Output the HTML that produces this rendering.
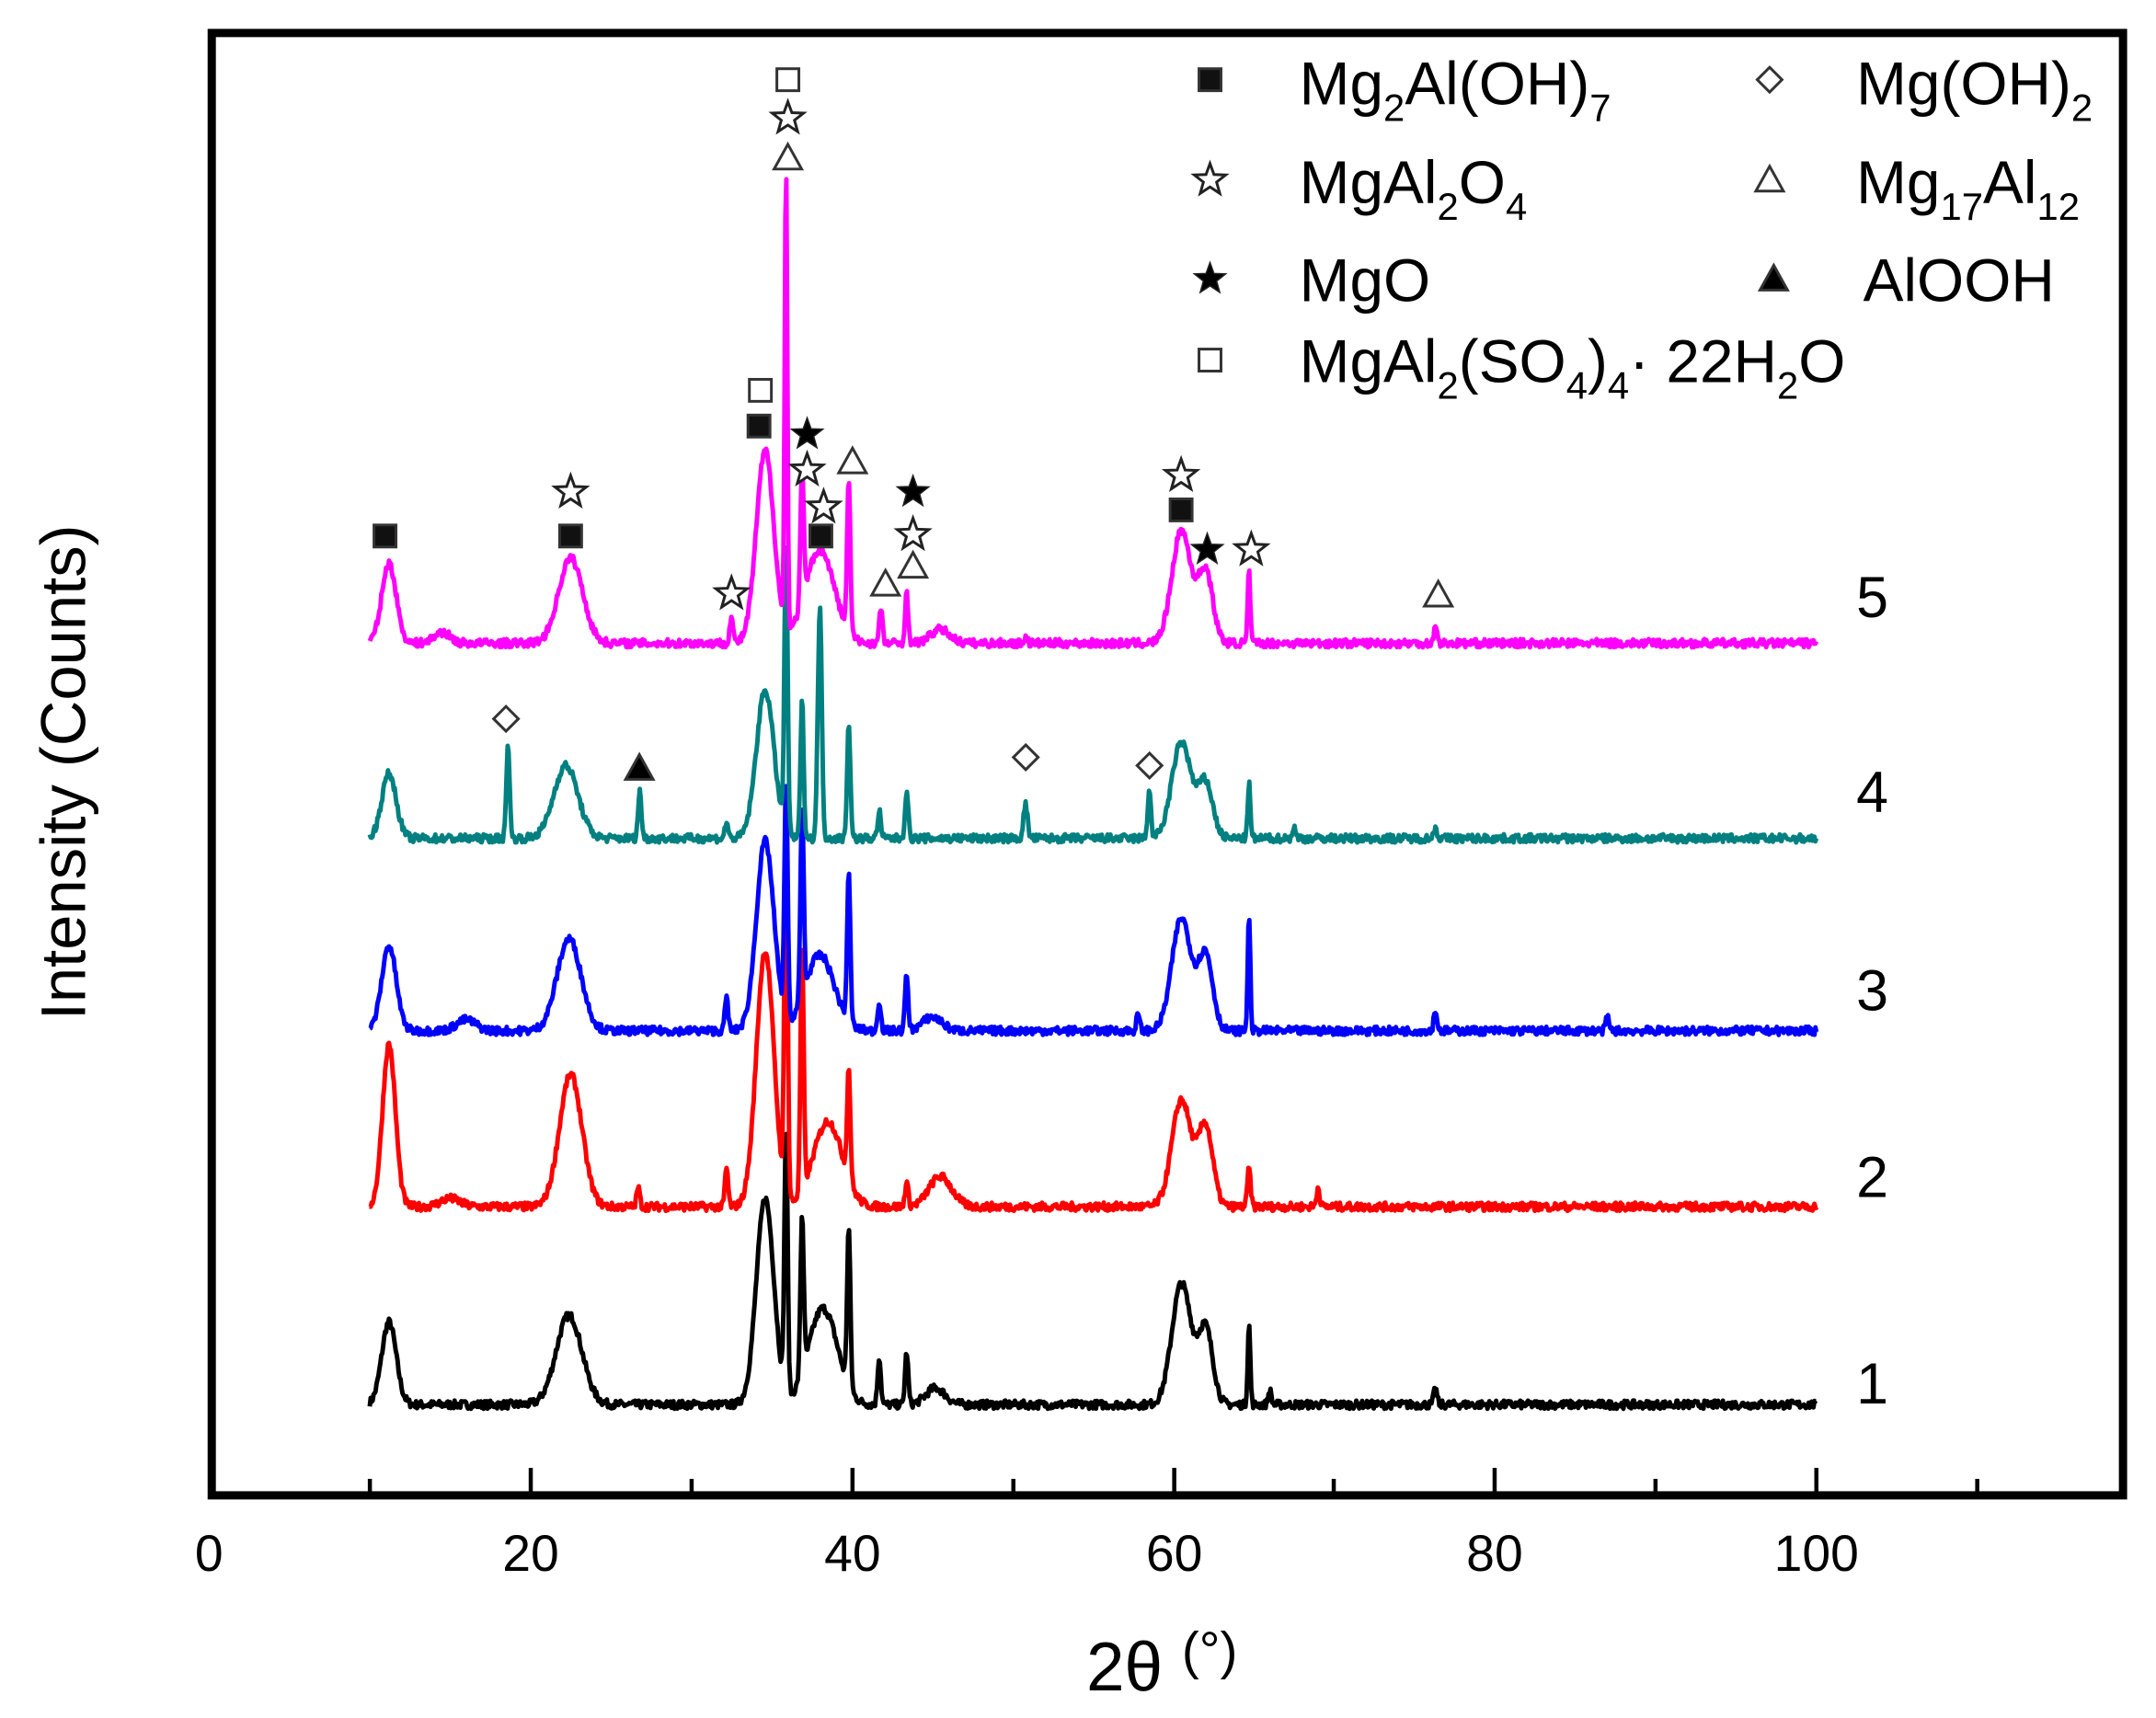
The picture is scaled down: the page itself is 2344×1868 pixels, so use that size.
<!DOCTYPE html>
<html><head><meta charset="utf-8">
<style>html,body{margin:0;padding:0;background:#fff;}svg{display:block}</style>
</head><body>
<svg id="s" width="2344" height="1868" viewBox="0 0 1568 1250" preserveAspectRatio="none" xmlns="http://www.w3.org/2000/svg" font-family="Liberation Sans, Arial, sans-serif">
<rect x="0" y="0" width="1568" height="1250" fill="#fff"/>
<g id="series"></g>
<rect x="154" y="24" width="1390" height="1064" fill="none" stroke="#000" stroke-width="6"/>
<g stroke="#000" stroke-width="3">
<line x1="269" y1="1088" x2="269" y2="1076"/>
<line x1="386" y1="1088" x2="386" y2="1068"/>
<line x1="503" y1="1088" x2="503" y2="1076"/>
<line x1="620" y1="1088" x2="620" y2="1068"/>
<line x1="737" y1="1088" x2="737" y2="1076"/>
<line x1="854" y1="1088" x2="854" y2="1068"/>
<line x1="970" y1="1088" x2="970" y2="1076"/>
<line x1="1087" y1="1088" x2="1087" y2="1068"/>
<line x1="1204" y1="1088" x2="1204" y2="1076"/>
<line x1="1321" y1="1088" x2="1321" y2="1068"/>
<line x1="1438" y1="1088" x2="1438" y2="1076"/>
</g>
<g font-size="37" text-anchor="middle" fill="#000">
<text x="152" y="1143">0</text><text x="386" y="1143">20</text><text x="620" y="1143">40</text>
<text x="854" y="1143">60</text><text x="1087" y="1143">80</text><text x="1321" y="1143">100</text>
</g>
<text x="845" y="1230" font-size="50" text-anchor="middle">2θ <tspan font-size="38" dy="-16">(°)</tspan></text>
<text transform="translate(62,562) rotate(-90)" font-size="46" text-anchor="middle">Intensity (Counts)</text>
<g font-size="42" fill="#000">
<text x="1350" y="449">5</text><text x="1350" y="591">4</text><text x="1350" y="735">3</text>
<text x="1350" y="871">2</text><text x="1350" y="1021">1</text>
</g>
<g font-size="44" fill="#000">
<text x="945" y="76">Mg<tspan font-size="28" dy="12">2</tspan><tspan dy="-12">Al(OH)</tspan><tspan font-size="28" dy="12">7</tspan></text>
<text x="1350" y="76">Mg(OH)<tspan font-size="28" dy="12">2</tspan></text>
<text x="945" y="148">MgAl<tspan font-size="28" dy="12">2</tspan><tspan dy="-12">O</tspan><tspan font-size="28" dy="12">4</tspan></text>
<text x="1350" y="148">Mg<tspan font-size="28" dy="12">17</tspan><tspan dy="-12">Al</tspan><tspan font-size="28" dy="12">12</tspan></text>
<text x="945" y="219">MgO</text>
<text x="1355" y="219">AlOOH</text>
<text x="945" y="278">MgAl<tspan font-size="28" dy="12">2</tspan><tspan dy="-12">(SO</tspan><tspan font-size="28" dy="12">4</tspan><tspan dy="-12">)</tspan><tspan font-size="28" dy="12">4</tspan><tspan dy="-12">·  22H</tspan><tspan font-size="28" dy="12">2</tspan><tspan dy="-12">O</tspan></text>
</g>
<g id="marks"></g>
</svg>
<script>
(function(){
var NS="http://www.w3.org/2000/svg";
var seed=7;function rnd(){seed=(seed*16807)%2147483647;return seed/2147483647;}
function X(d){return 152+d*11.69;}
var S=[
 {c:"#000",b:1022,p:[[11.2,60,.45],[22.4,65,.8],[34.6,150,.55],[35.9,190,.1],[36.9,115,.1],[38.2,70,.9],[39.8,115,.1],[41.7,35,.1],[43.4,38,.1],[45.2,12,.6],[60.5,88,.6],[62,55,.45],[64.7,58,.08],[76.3,12,.1],[66,10,.1]]},
 {c:"#ff0000",b:878,p:[[11.2,118,.4],[22.5,96,.7],[32.2,28,.1],[34.6,186,.55],[35.9,270,.1],[36.9,175,.1],[38.5,62,.9],[39.8,80,.1],[43.4,18,.1],[45.5,22,.7],[60.5,78,.6],[62,58,.45],[64.7,28,.1],[69,14,.1],[26.7,14,.1],[15,6,.6]]},
 {c:"#0000ff",b:750,p:[[11.2,62,.45],[22.4,67,.75],[32.2,25,.1],[34.6,138,.55],[35.9,170,.1],[36.9,138,.1],[38,55,.9],[39.8,107,.1],[41.7,22,.1],[43.4,40,.1],[45,10,.6],[57.8,12,.1],[60.5,82,.6],[62,55,.45],[64.7,84,.08],[76.3,15,.1],[87,10,.1],[16,8,.6]]},
 {c:"#008080",b:610,p:[[11.2,47,.45],[18.6,70,.1],[22.2,53,.75],[26.8,35,.1],[32.2,12,.1],[34.6,108,.55],[35.9,210,.1],[36.9,100,.1],[38.0,170,.12],[39.8,85,.1],[41.7,20,.1],[43.4,35,.1],[50.8,25,.12],[58.5,35,.1],[60.5,70,.6],[62,40,.45],[64.7,40,.08],[76.3,8,.1],[67.5,8,.1]]},
 {c:"#ff00ff",b:468,p:[[11.2,58,.45],[14.5,8,.5],[22.5,62,.75],[32.5,20,.1],[34.6,140,.55],[35.9,335,.08],[36.9,95,.1],[38,68,.9],[39.8,110,.1],[41.8,25,.1],[43.4,36,.1],[45.5,10,.6],[50.8,5,.1],[60.5,82,.6],[62,52,.45],[64.7,52,.08],[76.3,12,.1]]}
];
var g=document.getElementById("series");
S.forEach(function(s){
 var d="";
 for(var t=10;t<=100.001;t+=0.06){
  var y=0;
  s.p.forEach(function(p){var z=(t-p[0])/p[2];y+=p[1]*Math.exp(-0.5*z*z);});
  y+= (rnd()-0.5)*6;
  d+=(d?"L":"M")+X(t).toFixed(1)+" "+(s.b-y).toFixed(1);
 }
 var e=document.createElementNS(NS,"path");
 e.setAttribute("d",d);e.setAttribute("fill","none");e.setAttribute("stroke",s.c);
 e.setAttribute("stroke-width","3.3");e.setAttribute("stroke-linejoin","round");
 g.appendChild(e);
});
var m=document.getElementById("marks");
function add(tag,attrs){var e=document.createElementNS(NS,tag);for(var k in attrs)e.setAttribute(k,attrs[k]);m.appendChild(e);}
function sq(x,y,f){add("rect",{x:x-8,y:y-8,width:16,height:16,fill:f?"#111":"#fff",stroke:"#333","stroke-width":2});}
function star(x,y,f){var pts=[];for(var i=0;i<10;i++){var r=i%2?5:12;var a=-Math.PI/2+i*Math.PI/5;pts.push((x+r*Math.cos(a)).toFixed(1)+","+(y+r*Math.sin(a)).toFixed(1));}
 add("polygon",{points:pts.join(" "),fill:f?"#000":"#fff",stroke:"#222","stroke-width":f?1:2});}
function tri(x,y,f){add("polygon",{points:(x)+","+(y-10)+" "+(x-10)+","+(y+8)+" "+(x+10)+","+(y+8),fill:f?"#000":"#fff",stroke:"#333","stroke-width":2});}
function dia(x,y){add("polygon",{points:x+","+(y-9)+" "+(x+9)+","+y+" "+x+","+(y+9)+" "+(x-9)+","+y,fill:"#fff",stroke:"#333","stroke-width":2});}
sq(880,58,1);dia(1287,58);star(880,131,0);tri(1287,131,0);star(880,203,1);tri(1290,203,1);sq(880,262,0);
[[280,390],[415,390],[552,310],[597,390],[859,371]].forEach(function(p){sq(p[0],p[1],1);});
[[415,358],[532,432],[573,86],[587,342],[599,369],[664,389],[859,346],[910,400]].forEach(function(p){star(p[0],p[1],0);});
[[573,58],[553,284]].forEach(function(p){sq(p[0],p[1],0);});
[[573,115],[620,336],[644,425],[664,412],[1046,433]].forEach(function(p){tri(p[0],p[1],0);});
[[587,316],[664,358],[878,400]].forEach(function(p){star(p[0],p[1],1);});
[[368,523],[746,551],[836,557]].forEach(function(p){dia(p[0],p[1]);});
tri(465,559,1);
})();
</script>
</body></html>
